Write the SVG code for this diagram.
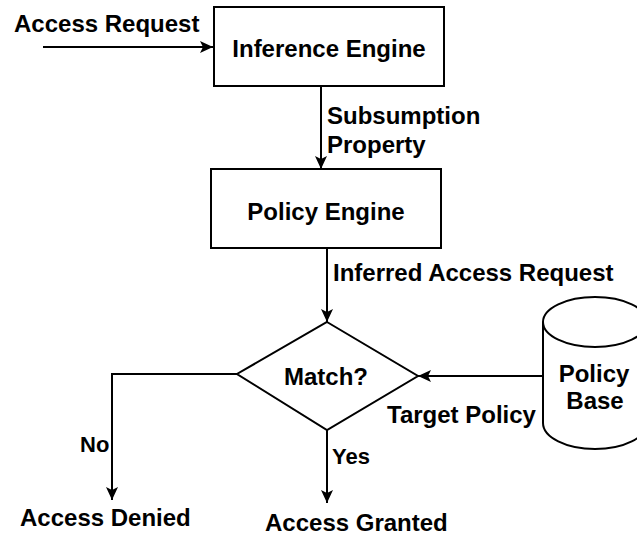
<svg xmlns="http://www.w3.org/2000/svg" width="637" height="535" viewBox="0 0 637 535">
<style>
.t{font-family:"Liberation Sans",Arial,sans-serif;font-weight:bold;font-size:24px;fill:#000}
.s{font-size:22px}
.box{fill:#fff;stroke:#000;stroke-width:2}
.ln{fill:none;stroke:#000;stroke-width:2}
</style>
<defs>
<marker id="ah" markerUnits="userSpaceOnUse" markerWidth="14" markerHeight="12" refX="13" refY="6" orient="auto">
<path d="M0,0 L13,6 L0,12 L3,6 z" fill="#000"/>
</marker>
</defs>
<rect width="637" height="535" fill="#fff"/>
<g id="connectors">
<line class="ln" x1="43" y1="47" x2="213" y2="47" marker-end="url(#ah)"/>
<line class="ln" x1="321" y1="86" x2="321" y2="169" marker-end="url(#ah)"/>
<line class="ln" x1="327" y1="248" x2="327" y2="322" marker-end="url(#ah)"/>
<line class="ln" x1="542" y1="376" x2="418" y2="376" marker-end="url(#ah)"/>
<polyline class="ln" points="237,374 112,374 112,500" marker-end="url(#ah)"/>
<line class="ln" x1="327" y1="430" x2="327" y2="503" marker-end="url(#ah)"/>
<text class="t" x="14" y="32">Access Request</text>
<text class="t" x="327" y="124">Subsumption</text>
<text class="t" x="327" y="153">Property</text>
<text class="t" x="333" y="281">Inferred Access Request</text>
<text class="t" x="387" y="423">Target Policy</text>
<text class="t s" x="80" y="452">No</text>
<text class="t s" x="332" y="464">Yes</text>
</g>
<g id="inference-engine">
<rect class="box" x="214" y="7" width="230" height="79"/>
<text class="t" x="329" y="57" text-anchor="middle">Inference Engine</text>
</g>
<g id="policy-engine">
<rect class="box" x="211" y="169" width="230" height="79"/>
<text class="t" x="326" y="220" text-anchor="middle">Policy Engine</text>
</g>
<g id="match">
<polygon class="box" points="327,322 418,376 327,430 237,374"/>
<text class="t" x="326" y="385" text-anchor="middle">Match?</text>
</g>
<g id="policy-base">
<path class="box" d="M543,322 A52,25 0 0 1 647,322 L647,423 A52,26 0 0 1 543,423 Z"/>
<path class="ln" d="M543,322 A52,25 0 0 0 647,322"/>
<text class="t" x="594" y="382" text-anchor="middle">Policy</text>
<text class="t" x="595" y="409" text-anchor="middle">Base</text>
</g>
<g id="access-denied">
<text class="t" x="20" y="526">Access Denied</text>
</g>
<g id="access-granted">
<text class="t" x="265" y="531">Access Granted</text>
</g>
</svg>
